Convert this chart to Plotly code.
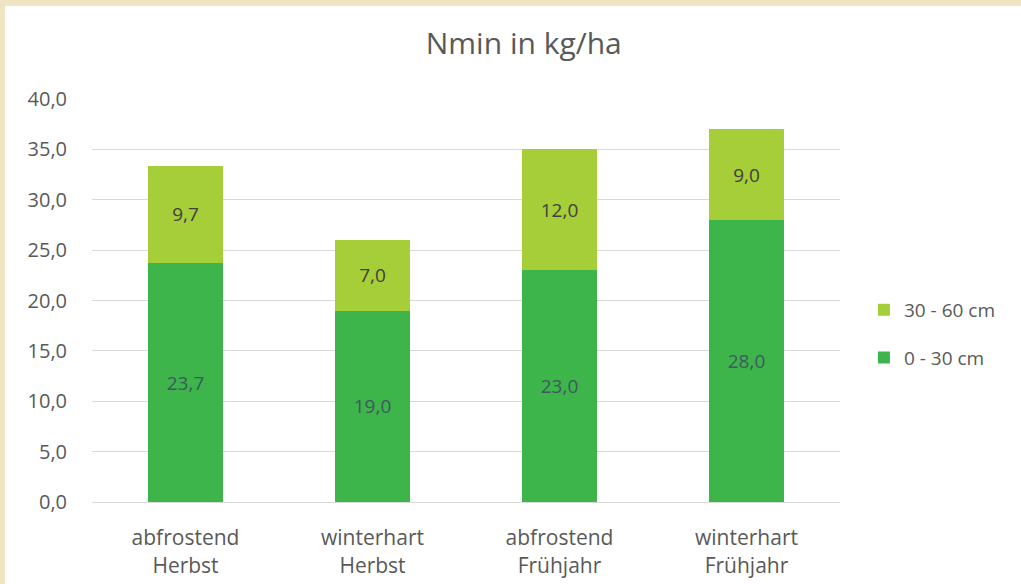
import plotly.graph_objects as go

categories = ["abfrostend<br>Herbst", "winterhart<br>Herbst", "abfrostend<br>Frühjahr", "winterhart<br>Frühjahr"]
layer_0_30 = [23.7, 19.0, 23.0, 28.0]
layer_30_60 = [9.7, 7.0, 12.0, 9.0]
series_names = ["0 - 30 cm", "30 - 60 cm"]
y_ticks = [0, 5, 10, 15, 20, 25, 30, 35, 40]

FONT = "'Open Sans', sans-serif"
fmt = lambda v: f"{v:.1f}".replace(".", ",")

fig = go.Figure()
fig.add_trace(go.Bar(
    x=categories, y=layer_0_30, name=series_names[0],
    marker=dict(color="#3DB54A", line=dict(width=0)),
    text=[fmt(v) for v in layer_0_30], textposition="inside", insidetextanchor="middle",
    textfont=dict(color="#3E5A60", size=19, family=FONT),
    legendgroup="b", legendrank=2,
))
fig.add_trace(go.Bar(
    x=categories, y=layer_30_60, name=series_names[1],
    marker=dict(color="#A6CE39", line=dict(width=0)),
    text=[fmt(v) for v in layer_30_60], textposition="inside", insidetextanchor="middle",
    textfont=dict(color="#404040", size=19, family=FONT),
    legendgroup="a", legendrank=1,
))

fig.update_layout(
    width=1021, height=584,
    barmode="stack", bargap=0.6,
    paper_bgcolor="#EFE4C4", plot_bgcolor="white",
    margin=dict(l=92, r=181, t=99, b=82),
    separators=",.",
    font=dict(family=FONT, color="#595959", size=19),
    title=dict(text="Nmin in kg/ha", x=0.513, xanchor="center", y=0.925, yanchor="middle",
               font=dict(size=30, color="#595959", family=FONT)),
    uniformtext=dict(mode=False),
    showlegend=True,
    legend=dict(x=1.032, xanchor="left", y=0.417, yanchor="middle", traceorder="grouped",
                tracegroupgap=20, font=dict(size=19, color="#595959", family=FONT),
                bgcolor="rgba(0,0,0,0)", itemwidth=30),
    shapes=[dict(type="rect", xref="paper", yref="paper",
                 x0=(5 - 92) / 748, x1=(1030 - 92) / 748,
                 y0=(502 - 600) / 403, y1=(502 - 6) / 403,
                 fillcolor="white", line=dict(width=0), layer="below")],
)
fig.update_yaxes(range=[0, 40], tickvals=y_ticks, tickformat=".1f", showgrid=True,
                 gridcolor="#D9D9D9", gridwidth=1, zeroline=False, showline=False,
                 ticks="outside", ticklen=20, tickcolor="rgba(0,0,0,0)", automargin=False,
                 tickfont=dict(size=20, color="#595959"))
fig.update_xaxes(showline=True, linecolor="#D9D9D9", linewidth=1, ticks="outside", ticklen=17,
                 tickcolor="rgba(0,0,0,0)", automargin=False,
                 tickfont=dict(size=21, color="#595959"))

fig.write_html("out.html")
